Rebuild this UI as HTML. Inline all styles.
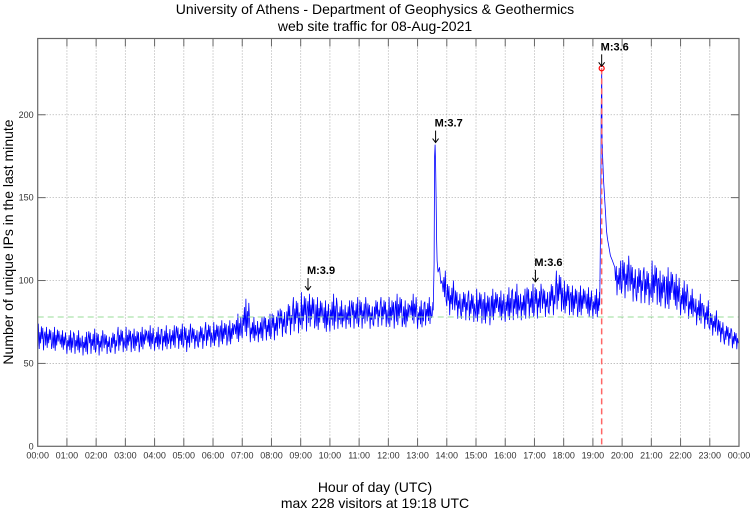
<!DOCTYPE html>
<html><head><meta charset="utf-8"><style>
html,body{margin:0;padding:0;background:#fff}
svg{display:block;font-family:"Liberation Sans",sans-serif}
</style></head><body>
<svg id="chart" width="750" height="511" viewBox="0 0 750 511">
<text x="375" y="14" text-anchor="middle" font-size="14">University of Athens - Department of Geophysics &amp; Geothermics</text>
<text x="375" y="31" text-anchor="middle" font-size="14">web site traffic for 08-Aug-2021</text>
<text x="375" y="492" text-anchor="middle" font-size="14">Hour of day (UTC)</text>
<text x="375" y="508" text-anchor="middle" font-size="14">max 228 visitors at 19:18 UTC</text>
<text transform="translate(13,242) rotate(-90)" text-anchor="middle" font-size="14">Number of unique IPs in the last minute</text>
<g id="grid"></g><g id="series"></g><g id="marks"></g><g id="axes"></g>
</svg>
<script>
const quarterLow=[57,58,56,57,55,55,54,55,54,55,55,56,56,56,57,57,57,57,58,58,56,58,58,59,59,60,60,61,64,62,62,63,63,65,66,67,68,70,68,67,68,70,70,70,70,70,71,71,70,71,70,72,70,72,70,86,78,76,75,74,73,72,74,74,74,75,75,76,76,77,78,80,78,77,77,76,76,95,95,90,88,86,85,84,84,82,80,80,78,76,72,70,66,62,60,58];
const quarterHigh=[74,72,72,70,70,70,69,71,70,69,70,72,72,71,72,73,72,73,73,74,74,73,74,75,75,76,76,80,89,78,78,80,82,85,88,90,93,92,90,88,92,88,88,90,90,88,90,90,90,92,88,92,88,90,90,106,100,96,95,94,95,93,95,94,96,98,95,98,98,97,100,106,100,97,97,96,95,118,118,112,115,112,110,108,112,106,108,104,100,95,92,88,82,78,74,70];
const eventMinutes=[[812,814,815,816,817,818,819,820,822,825,828,830],[1154,1156,1157,1158,1159,1160,1162,1164,1166,1168,1170,1173,1176,1180,1185]];
const eventValues=[[82,110,175,182,170,150,125,112,105,108,98,100],[85,140,200,228,185,175,160,150,140,130,125,120,115,112,108]];
const yTicks=[0,50,100,150,200];
const hourLabels=["00:00","01:00","02:00","03:00","04:00","05:00","06:00","07:00","08:00","09:00","10:00","11:00","12:00","13:00","14:00","15:00","16:00","17:00","18:00","19:00","20:00","21:00","22:00","23:00","00:00"];
const annotMinutes=[555,817,1022,1158];
const annotLabels=["M:3.9","M:3.7","M:3.6","M:3.6"];
const annotValues=[93,182,98,228];
const peakMinute=1158, peakValue=228, avgValue=78, yMax=246;

const X0=37.7,X1=739,Y0=446.3,Y1=38.5;
const xs=m=>X0+(X1-X0)*m/1440;
const ys=v=>Y0-(Y0-Y1)*v/yMax;
const NS="http://www.w3.org/2000/svg";
function mk(parent,tag,attrs){const e=document.createElementNS(NS,tag);for(const k in attrs)e.setAttribute(k,attrs[k]);document.getElementById(parent).appendChild(e);return e;}

hourLabels.forEach((lab,i)=>{
  const x=xs(i*60);
  if(i>0&&i<24){const g=mk('grid','line',{x1:x,x2:x,y1:Y1,y2:Y0,stroke:'#999','stroke-width':0.8,'stroke-dasharray':'1,2'});
  
  
  mk('axes','line',{x1:x,x2:x,y1:Y0,y2:Y0-8,stroke:'#666','stroke-width':1});
  mk('axes','line',{x1:x,x2:x,y1:Y1,y2:Y1+8,stroke:'#666','stroke-width':1});}
  const t=mk('axes','text',{x:x,y:Y0+12,'text-anchor':'middle','font-size':9,fill:'#333'});t.textContent=lab;
  
  
});
yTicks.forEach(v=>{
  const y=ys(v);
  if(v>0){const g=mk('grid','line',{x1:X0,x2:X1,y1:y,y2:y,stroke:'#999','stroke-width':0.8,'stroke-dasharray':'1,2'});
  
  
  mk('axes','line',{x1:X0,x2:X0+8,y1:y,y2:y,stroke:'#666'});mk('axes','line',{x1:X1,x2:X1-8,y1:y,y2:y,stroke:'#666'});}
  const t=mk('axes','text',{x:X0-4,y:y+3,'text-anchor':'end','font-size':9,fill:'#333'});t.textContent=v;
  
  
});
const fr=[0.2,0.9,0.35,0.7,0.05,1.0,0.45,0.8,0.3,0.6,0.1,0.85];
let pts=[];
quarterLow.forEach((lo,q)=>{const hi=quarterHigh[q];for(let k=0;k<10;k++){const m=q*15+k*1.5;pts.push([m,lo+(hi-lo)*fr[(k*5+q*7)%12]]);}});
eventMinutes.forEach((ms,e)=>{const a=ms[0],b=ms[ms.length-1];pts=pts.filter(p=>p[0]<a||p[0]>b);ms.forEach((m,i)=>pts.push([m,eventValues[e][i]]));});
pts.sort((a,b)=>a[0]-b[0]);
const line=mk('series','polyline',{points:pts.map(p=>xs(p[0]).toFixed(1)+','+ys(p[1]).toFixed(1)).join(' '),fill:'none',stroke:'#0000ff','stroke-width':0.8});


const avg=mk('marks','line',{x1:X0,x2:X1,y1:ys(avgValue),y2:ys(avgValue),stroke:'#9d9','stroke-width':1,'stroke-dasharray':'6,4'});


const pv=mk('marks','line',{x1:xs(peakMinute),x2:xs(peakMinute),y1:ys(peakValue),y2:Y0,stroke:'#f66','stroke-width':1.5,'stroke-dasharray':'6,4'});


const pc=mk('marks','circle',{cx:xs(peakMinute),cy:ys(peakValue),r:2.5,fill:'none',stroke:'#f00','stroke-width':1.2});


annotMinutes.forEach((m,i)=>{
  const x=xs(m),y=ys(annotValues[i])-2;
  const t=mk('marks','text',{x:x-1,y:y-16,'font-size':11,'font-weight':'bold'});t.textContent=annotLabels[i];
  
  
  mk('marks','line',{x1:x,x2:x,y1:y-12,y2:y,stroke:'#000','stroke-width':1});
  mk('marks','path',{d:`M${x-3},${y-4} L${x},${y} L${x+3},${y-4}`,fill:'none',stroke:'#000','stroke-width':1});
});
const fr2=mk('axes','rect',{x:X0,y:Y1,width:X1-X0,height:Y0-Y1,fill:'none',stroke:'#666','stroke-width':1.2});


</script>
</body></html>
